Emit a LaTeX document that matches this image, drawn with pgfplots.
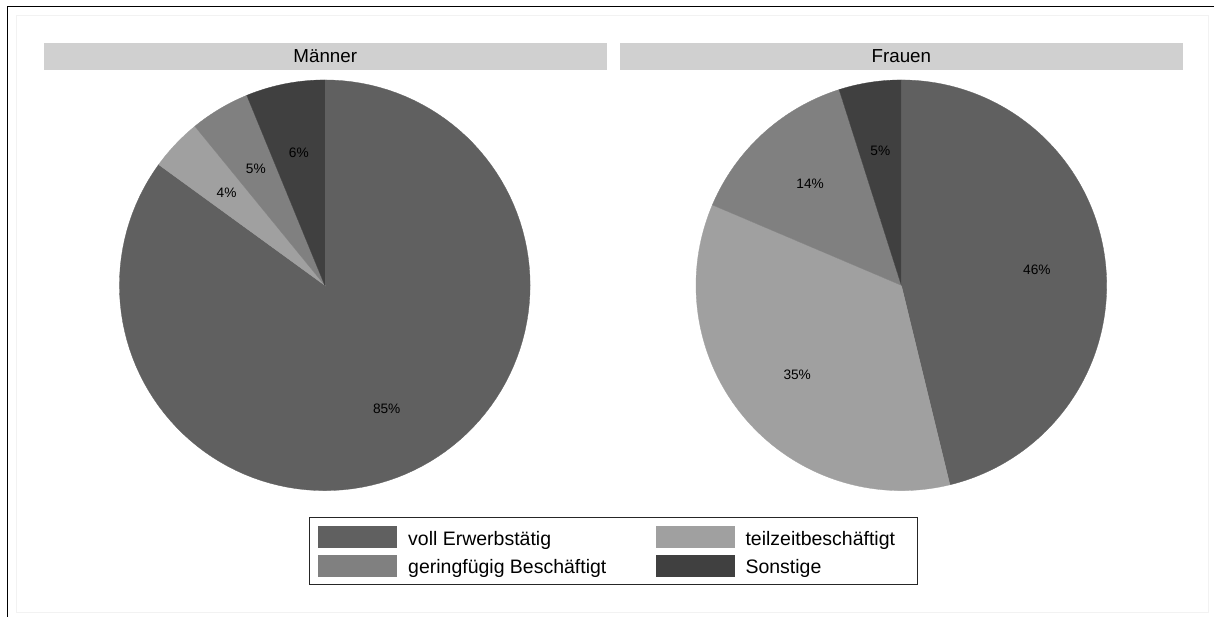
\documentclass[border=0pt]{standalone}
\usepackage{fontspec}
\setmainfont{Liberation Sans}
\usepackage{pgfplots}
\pgfplotsset{compat=1.18}
\definecolor{cvoll}{gray}{0.376}
\definecolor{cteil}{gray}{0.627}
\definecolor{cgering}{gray}{0.502}
\definecolor{csonst}{gray}{0.251}
\definecolor{chead}{gray}{0.816}
\newcommand\lgA[1]{\raisebox{-8.3bp}[0pt][0pt]{\makebox[251bp][l]{\hspace*{11.7bp}#1}}}
\newcommand\lgB[1]{\raisebox{-8.3bp}[0pt][0pt]{\makebox[182.7bp][l]{\hspace*{11bp}#1}}}
% slice: [options]{centre x}{cumulative start %}{cumulative end %}{colour}
\newcommand\pieslice[5][]{%
  \addplot[#1, fill=#5, draw=#5, line width=0.3bp, domain=90-3.6*#4:90-3.6*#3, samples=120, variable=\t]
    ({#2+205.5*cos(\t)},{285.5-205.5*sin(\t)}) -- (axis cs:#2,285.5) -- cycle;}
\begin{document}
\begin{tikzpicture}
\begin{axis}[
  width=1215bp, height=617bp, scale only axis,
  xmin=0, xmax=1215, ymin=0, ymax=617, y dir=reverse,
  hide axis, clip=false,
  legend columns=2,
  legend image code/.code={\path (0bp,0bp); \fill (8.7bp,-10.65bp) rectangle (87bp,10.65bp);},
  legend style={at={(axis cs:309,517.3)}, anchor=north west,
    inner xsep=0pt, inner ysep=8.5bp, row sep=7.2bp, column sep=0pt,
    nodes={inner sep=0pt, text depth=0pt}, cells={anchor=base west},
    draw=black!85, line width=1bp, fill=white,
    font=\fontsize{19.5bp}{23bp}\selectfont},
]
\path (axis cs:0,0) rectangle (axis cs:1215,617);
\draw[black!5, line width=0.8bp] (axis cs:16,15) rectangle (axis cs:1209,613);
\draw[black, line width=1.8bp] (axis cs:1215,6.5) -- (axis cs:7.5,6.5) -- (axis cs:7.5,617);
\fill[chead] (axis cs:44,43) rectangle (axis cs:607,70);
\fill[chead] (axis cs:620,43) rectangle (axis cs:1184,70);
\node[anchor=base, inner sep=0pt, font=\fontsize{18.8bp}{22bp}\selectfont] at (axis cs:325.5,62.7) {Männer};
\node[anchor=base, inner sep=0pt, font=\fontsize{18.8bp}{22bp}\selectfont] at (axis cs:902,62.7) {Frauen};

% Männer: 85, 4.1, 4.7, 6.2 %
\pieslice{325}{0}{85}{cvoll}
\addlegendentry{\lgA{voll Erwerbstätig}}
\pieslice{325}{85}{89.1}{cteil}
\addlegendentry{\lgB{teilzeitbeschäftigt}}
\pieslice{325}{89.1}{93.8}{cgering}
\addlegendentry{\lgA{geringfügig Beschäftigt}}
\pieslice{325}{93.8}{100}{csonst}
\addlegendentry{\lgB{Sonstige}}

% Frauen: 46.2, 35.2, 13.7, 4.9 %
\pieslice[forget plot]{902}{0}{46.2}{cvoll}
\pieslice[forget plot]{902}{46.2}{81.4}{cteil}
\pieslice[forget plot]{902}{81.4}{95.1}{cgering}
\pieslice[forget plot]{902}{95.1}{100}{csonst}

\addplot[forget plot, only marks, mark=none, point meta=explicit symbolic, nodes near coords,
  every node near coord/.append style={anchor=center, inner sep=0pt, text=black,
  font=\fontsize{13.7bp}{16bp}\selectfont}]
  coordinates {
  (387,409.5) [85\%]
  (226.7,192.7) [4\%]
  (256,169.3) [5\%]
  (299,152.7) [6\%]
  (1037.7,270) [46\%]
  (797.8,375) [35\%]
  (810.7,184.3) [14\%]
  (881,151) [5\%]
  };
\end{axis}
\end{tikzpicture}
\end{document}
